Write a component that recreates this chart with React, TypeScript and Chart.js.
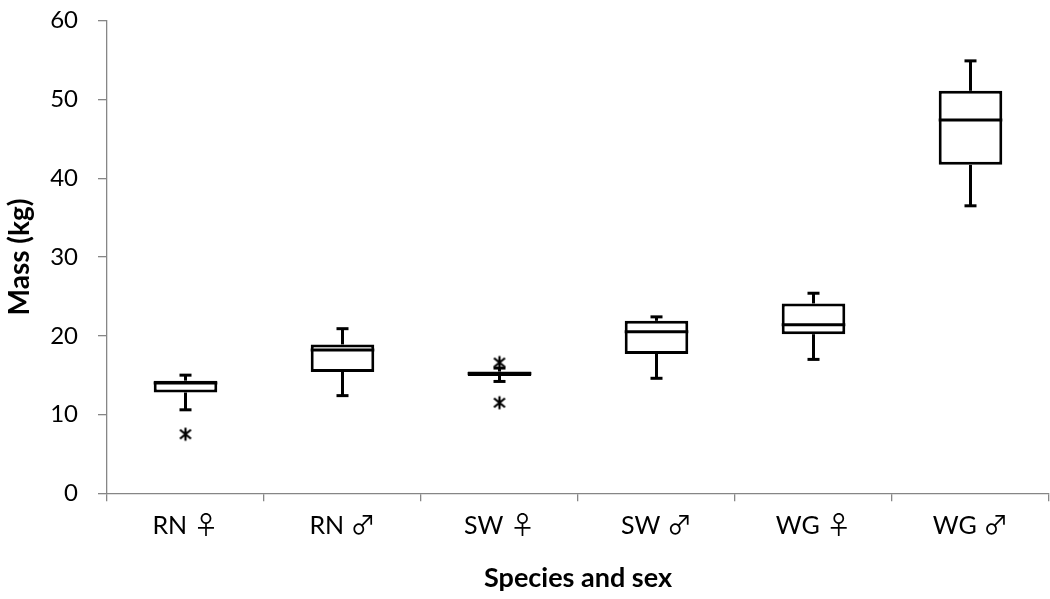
import { useEffect, useRef } from 'react';
import { Chart, registerables } from 'chart.js';

Chart.register(...registerables);

const categories = ['RN \u2640', 'RN \u2642', 'SW \u2640', 'SW \u2642', 'WG \u2640', 'WG \u2642'];
const whiskerMin = [10.6, 12.4, 14.2, 14.6, 17.0, 36.5];
const q1 = [12.8, 15.4, 14.9, 17.7, 20.2, 41.7];
const median = [14.0, 18.2, 15.2, 20.5, 21.4, 47.4];
const q3 = [14.3, 18.9, 15.45, 21.9, 24.1, 51.1];
const whiskerMax = [15.0, 20.9, 15.9, 22.4, 25.4, 54.9];
const outlierCategory = ['RN \u2640', 'SW \u2640', 'SW \u2640'];
const outlierValue = [7.5, 16.6, 11.5];
const yMin = 0;
const yMax = 60;
const yStep = 10;

const FONT = "Lato, 'Noto Sans CJK JP', 'DejaVu Sans', sans-serif";
const AXIS_GRAY = '#868686';

function makeAsterisk(): HTMLCanvasElement {
  const c = document.createElement('canvas');
  c.width = 16;
  c.height = 16;
  const g = c.getContext('2d')!;
  g.strokeStyle = '#000';
  g.lineWidth = 2.2;
  g.beginPath();
  g.moveTo(8, 1.5); g.lineTo(8, 14.5);
  g.moveTo(2.5, 3.5); g.lineTo(13.5, 12.5);
  g.moveTo(13.5, 3.5); g.lineTo(2.5, 12.5);
  g.stroke();
  return c;
}

const boxParts = {
  id: 'boxParts',
  afterDatasetsDraw(chart: any) {
    const ctx = chart.ctx;
    const xs = chart.scales.x;
    const ys = chart.scales.y;
    const meta = chart.getDatasetMeta(0);
    ctx.save();
    ctx.strokeStyle = '#000';
    ctx.lineWidth = 3;
    ctx.lineCap = 'butt';
    const seg = (x1: number, y1: number, x2: number, y2: number) => {
      ctx.beginPath();
      ctx.moveTo(x1, y1);
      ctx.lineTo(x2, y2);
      ctx.stroke();
    };
    categories.forEach((_, i) => {
      const bar = meta.data[i];
      const cx = xs.getPixelForValue(i);
      const half = bar.width / 2;
      const cap = 6;
      const yTop = ys.getPixelForValue(whiskerMax[i]);
      const yBot = ys.getPixelForValue(whiskerMin[i]);
      const yQ3 = ys.getPixelForValue(q3[i]);
      const yQ1 = ys.getPixelForValue(q1[i]);
      const yMed = ys.getPixelForValue(median[i]);
      seg(cx, yQ3, cx, yTop);
      seg(cx - cap, yTop, cx + cap, yTop);
      seg(cx, yQ1, cx, yBot);
      seg(cx - cap, yBot, cx + cap, yBot);
      seg(cx - half, yMed, cx + half, yMed);
    });
    ctx.restore();
  },
};

export default function App() {
  const ref = useRef<HTMLCanvasElement | null>(null);

  useEffect(() => {
    if (!ref.current) return;
    const star = makeAsterisk();
    const chart = new Chart(ref.current, {
      type: 'bar',
      data: {
        labels: categories,
        datasets: [
          {
            type: 'bar',
            data: categories.map((_, i) => [q1[i], q3[i]]) as any,
            backgroundColor: '#ffffff',
            borderColor: '#000000',
            borderWidth: 3,
            borderSkipped: false,
            categoryPercentage: 1,
            barPercentage: 0.405,
          },
          {
            type: 'line',
            data: outlierCategory.map((c, i) => ({ x: c, y: outlierValue[i] })) as any,
            showLine: false,
            pointStyle: star as any,
            pointRadius: 8,
            borderColor: '#000',
            backgroundColor: '#000',
          },
        ],
      },
      options: {
        responsive: false,
        animation: false,
        layout: { padding: { top: 0, left: 0, right: 0, bottom: 0 } },
        plugins: {
          legend: { display: false },
          tooltip: { enabled: false },
        },
        scales: {
          x: {
            type: 'category',
            offset: true,
            grid: {
              display: true,
              offset: true,
              drawOnChartArea: false,
              drawTicks: true,
              tickLength: 8,
              color: AXIS_GRAY,
              lineWidth: 1.3,
            },
            border: { display: true, color: AXIS_GRAY, width: 1.3 },
            ticks: {
              color: '#000',
              font: { family: FONT, size: 25 },
              padding: 10,
              maxRotation: 0,
            },
            title: {
              display: true,
              text: 'Species and sex',
              color: '#000',
              font: { family: FONT, size: 27, weight: 'bold' },
              padding: { top: 0, bottom: 5 },
            },
            afterFit: (s: any) => {
              s.height = 599 - 493.3;
              s.paddingLeft = 0;
              s.paddingRight = 0;
            },
          },
          y: {
            min: yMin,
            max: yMax,
            grid: {
              display: true,
              drawOnChartArea: false,
              drawTicks: true,
              tickLength: 9,
              color: AXIS_GRAY,
              lineWidth: 1.3,
            },
            border: { display: true, color: AXIS_GRAY, width: 1.3 },
            ticks: {
              stepSize: yStep,
              color: '#000',
              font: { family: FONT, size: 24 },
              padding: 20,
            },
            title: {
              display: true,
              text: 'Mass (kg)',
              color: '#000',
              font: { family: FONT, size: 28, weight: 'bold' },
              padding: { top: 3, bottom: 0 },
            },
            afterFit: (s: any) => {
              s.width = 107;
              s.paddingTop = 20.7;
              s.paddingBottom = 0;
            },
          },
        },
      },
      plugins: [boxParts],
    });
    return () => chart.destroy();
  }, []);

  return (
    <div
      style={{
        position: 'absolute',
        left: 0,
        top: 0,
        width: 1050,
        height: 599,
        overflow: 'hidden',
        background: '#fff',
      }}
    >
      <canvas ref={ref} width={1058} height={599} style={{ display: 'block' }} />
    </div>
  );
}
